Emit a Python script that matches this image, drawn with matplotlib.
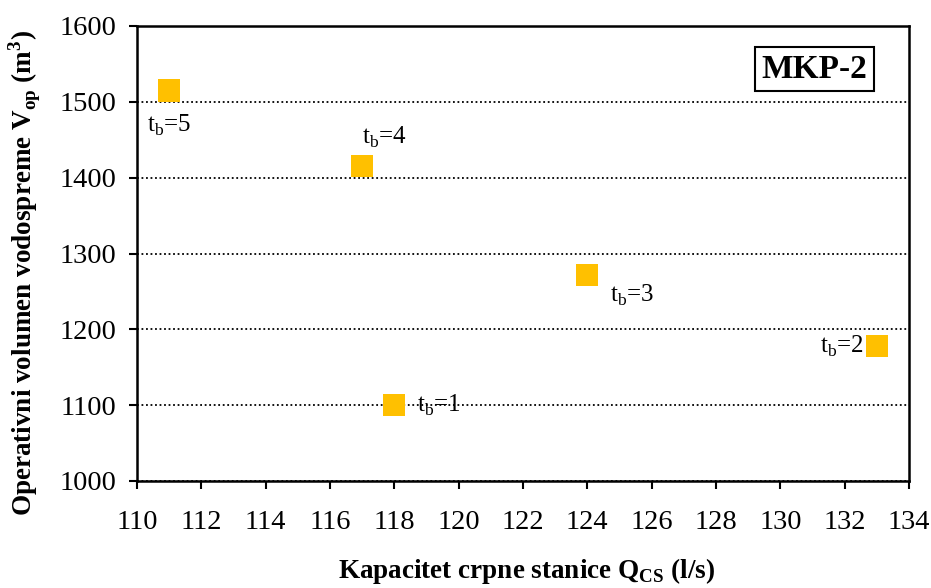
import matplotlib
matplotlib.use("Agg")
import matplotlib.pyplot as plt

plt.rcParams['font.family'] = ['Liberation Serif', 'DejaVu Serif']
plt.rcParams['mathtext.fontset'] = 'custom'
plt.rcParams['mathtext.rm'] = 'Liberation Serif'
plt.rcParams['mathtext.bf'] = 'Liberation Serif:bold'

# Data
capacity = [118, 133, 124, 117, 111]
volume = [1100, 1178, 1272, 1415, 1515]
tb_labels = ["1", "2", "3", "4", "5"]
# label offsets in points (dx, dy) from each point, and alignment
label_offsets = [(16, 0), (-9, 0), (16, -15), (0, 21), (-16, -25)]
label_ha = ['left', 'right', 'left', 'left', 'left']

x_ticks = list(range(110, 135, 2))
y_ticks = list(range(1000, 1601, 100))

fig = plt.figure(figsize=(9.31, 5.88), dpi=100)
ax = fig.add_axes([137/931, 1 - 481/588, (909-137)/931, (481-26)/588])

ax.scatter(capacity, volume, marker='s', s=16**2, color='#FFC000',
           edgecolors='none', zorder=3)

for x, y, lab, (dx, dy), ha in zip(capacity, volume, tb_labels, label_offsets, label_ha):
    ax.annotate(r"t$_\mathregular{b}$=" + lab, (x, y), xytext=(dx, dy),
                textcoords='offset points', fontsize=18, ha=ha, va='center')

ax.set_xlim(110, 134)
ax.set_ylim(1000, 1600)
ax.set_xticks(x_ticks)
ax.set_yticks(y_ticks)
ax.tick_params(axis='both', labelsize=20.5, direction='out', length=6, width=1.5,
               color='black')
ax.tick_params(axis='x', pad=15)
ax.tick_params(axis='y', pad=9)
for s in ax.spines.values():
    s.set_linewidth(1.8)
    s.set_color('black')

ax.yaxis.grid(True, linestyle=(0, (1, 1.5)), color='black', linewidth=1.3)
ax.set_axisbelow(True)

xl = ax.set_xlabel(r"Kapacitet crpne stanice Q$_\mathregular{CS}$ (l/s)",
                   fontsize=19.5, fontweight='bold')
xl.set_va('center')
ax.xaxis.set_label_coords(0.505, -0.197)
yl = ax.set_ylabel(r"Operativni volumen vodospreme V$_\mathregular{op}$ (m$^\mathregular{3}$)",
                   fontsize=19.5, fontweight='bold')
yl.set_va('center')
ax.yaxis.set_label_coords(-0.145, 0.457)

ax.text(0.877, 0.905, "MKP-2", transform=ax.transAxes, fontsize=24,
        fontweight='bold', ha='center', va='center',
        bbox=dict(boxstyle='square,pad=0.2', facecolor='white',
                  edgecolor='black', linewidth=1.5))

fig.savefig("out.png", dpi=100)
